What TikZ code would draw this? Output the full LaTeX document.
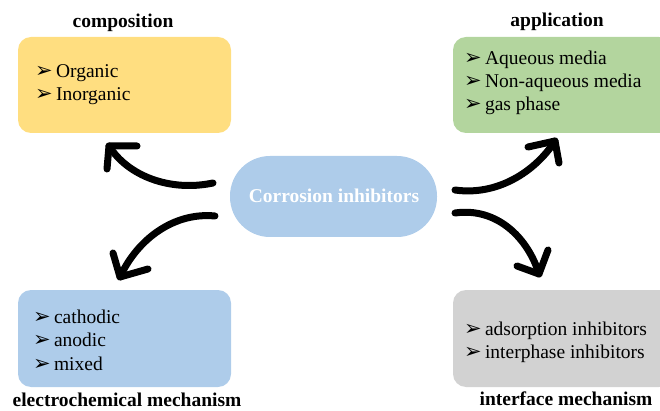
\documentclass[tikz,border=0pt]{standalone}
\usepackage{fontspec}
\setmainfont{Liberation Serif}
\newfontfamily\bulletfont{DejaVu Sans}
\definecolor{boxyellow}{HTML}{FFDE80}
\definecolor{boxgreen}{HTML}{B3D59E}
\definecolor{boxblue}{HTML}{AECCEA}
\definecolor{boxgray}{HTML}{D2D2D2}
\newcommand{\itm}{{\bulletfont\fontsize{21}{21}\selectfont ➢}\,}
\begin{document}
\begin{tikzpicture}[x=1pt,y=-1pt,
  panel/.style={rounded corners=13pt, draw=none},
  itemtext/.style={anchor=base west, inner sep=0pt, font=\fontsize{19.5}{23.3}\selectfont},
  titletext/.style={anchor=base, inner sep=0pt, font=\fontsize{19.5}{23}\selectfont\bfseries},
  bigarrow/.style={line width=7pt, line cap=round, line join=round}
]
\useasboundingbox (0,0) rectangle (660,411);
% panels
\fill[panel, boxyellow] (18,37) rectangle (231,133);
\fill[panel, boxgreen] (453,37) rectangle (672,133);
\fill[panel, boxblue] (18,290) rectangle (231,387);
\fill[panel, boxgray] (453,290) rectangle (672,387);
\node[fill=boxblue, rounded corners=40pt, minimum width=207pt, minimum height=81pt, inner sep=0pt] (center) at (333.5,196.5) {};
\node[anchor=base, inner sep=0pt, text=white, font=\fontsize{19.5}{23}\selectfont\bfseries] (ctext) at (334,203) {Corrosion inhibitors};
% titles
\node[titletext] (tcomp) at (123,28) {composition};
\node[titletext] (tappl) at (557,27) {application};
\node[titletext] (telec) at (127,406) {electrochemical mechanism};
\node[titletext] (tintf) at (566,405) {interface mechanism};
% items
\node[itemtext] (icomp1) at (35,77.5) {\itm Organic};
\node[itemtext] (icomp2) at (35,101) {\itm Inorganic};
\node[itemtext] (iappl1) at (464,65) {\itm Aqueous media};
\node[itemtext] (iappl2) at (464,88) {\itm Non-aqueous media};
\node[itemtext] (iappl3) at (464,111) {\itm gas phase};
\node[itemtext] (ielec1) at (33,323) {\itm cathodic};
\node[itemtext] (ielec2) at (33,346.5) {\itm anodic};
\node[itemtext] (ielec3) at (33,370) {\itm mixed};
\node[itemtext] (iintf1) at (464,335) {\itm adsorption inhibitors};
\node[itemtext] (iintf2) at (464,358) {\itm interphase inhibitors};
% arrow coordinates
\coordinate (tl0) at (213,183); \coordinate (tl1) at (109,146);
\coordinate (bl0) at (215,216); \coordinate (bl1) at (120,277);
\coordinate (tr0) at (455,190); \coordinate (tr1) at (555,141);
\coordinate (br0) at (455,213); \coordinate (br1) at (539,274);
% arrows
\draw[bigarrow] (tl0) .. controls (170,192) and (128,176) .. (tl1);
\draw[bigarrow] (137,146) -- (tl1) -- (107,169);
\draw[bigarrow] (bl0) .. controls (175,212) and (138,238) .. (bl1);
\draw[bigarrow] (113,253) -- (bl1) -- (148,269);
\draw[bigarrow] (tr0) .. controls (497,196) and (535,172) .. (tr1);
\draw[bigarrow] (528,147) -- (tr1) -- (559,163);
\draw[bigarrow] (br0) .. controls (497,207) and (528,238) .. (br1);
\draw[bigarrow] (517,266) -- (br1) -- (548,250);
\end{tikzpicture}
\end{document}
